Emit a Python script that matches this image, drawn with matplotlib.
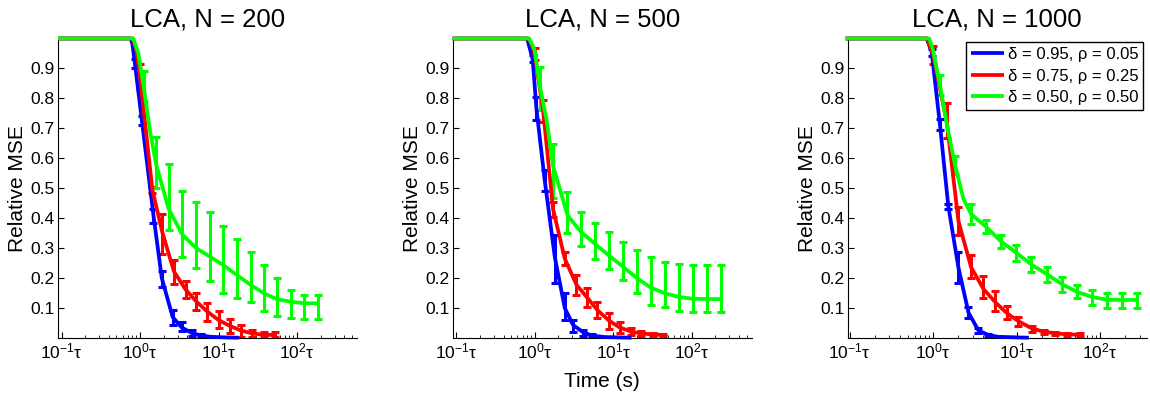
import numpy as np
import matplotlib.pyplot as plt
from matplotlib.ticker import NullFormatter

plt.rcParams['font.family'] = ['Liberation Sans', 'DejaVu Sans']
plt.rcParams['mathtext.fontset'] = 'custom'
plt.rcParams['mathtext.rm'] = 'Liberation Sans'
plt.rcParams['mathtext.it'] = 'Liberation Sans:italic'

titles = ['LCA, N = 200', 'LCA, N = 500', 'LCA, N = 1000']
labels = ['δ = 0.95, ρ = 0.05', 'δ = 0.75, ρ = 0.25', 'δ = 0.50, ρ = 0.50']
colors = ['#0000ff', '#ff0000', '#00ff00']
xlims = [(0.09, 580), (0.09, 580), (0.095, 360)]
xticks = [0.1, 1, 10, 100]
xticklabels = [r'$10^{-1}$τ', r'$10^{0}$τ', r'$10^{1}$τ', r'$10^{2}$τ']
yticks = [0.1, 0.2, 0.3, 0.4, 0.5, 0.6, 0.7, 0.8, 0.9]

# ---- N = 200 ----
p1_blue_line_t = [0.09, 0.76, 0.80, 0.86, 1.05, 1.48, 1.89, 2.6, 3.39, 4.55, 6, 8, 12, 18]
p1_blue_line_y = [1.0, 1.0, 0.98, 0.915, 0.73, 0.41, 0.20, 0.07, 0.035, 0.017, 0.008, 0.004, 0.002, 0.001]
p1_blue_bar_t = [0.86, 1.05, 1.48, 1.89, 2.6, 3.39, 4.55, 6]
p1_blue_bar_lo = [0.90, 0.71, 0.385, 0.17, 0.045, 0.022, 0.008, 0.003]
p1_blue_bar_hi = [0.93, 0.74, 0.43, 0.225, 0.093, 0.053, 0.028, 0.013]

p1_red_line_t = [0.09, 0.8, 0.9, 1.0, 1.435, 1.91, 2.7, 3.8, 5.2, 7.2, 10, 14, 19.4, 27, 38, 52]
p1_red_line_y = [1.0, 1.0, 0.96, 0.87, 0.495, 0.355, 0.222, 0.162, 0.122, 0.088, 0.06, 0.04, 0.025, 0.015, 0.011, 0.01]
p1_red_bar_t = [1.0, 1.435, 1.91, 2.7, 3.8, 5.2, 7.2, 10, 14, 19.4, 27, 38, 52]
p1_red_bar_lo = [0.83, 0.485, 0.28, 0.18, 0.135, 0.095, 0.058, 0.033, 0.017, 0.005, 0.002, 0.002, 0.002]
p1_red_bar_hi = [0.915, 0.505, 0.415, 0.26, 0.19, 0.15, 0.118, 0.09, 0.065, 0.043, 0.027, 0.02, 0.02]

p1_green_line_t = [0.09, 0.82, 0.95, 1.124, 1.34, 1.6, 2.32, 3.46, 5.17, 7.72, 11.5, 17.2, 25.7, 38, 56, 84, 124, 184]
p1_green_line_y = [1.0, 1.0, 0.95, 0.83, 0.69, 0.58, 0.43, 0.345, 0.30, 0.272, 0.243, 0.21, 0.177, 0.149, 0.129, 0.121, 0.116, 0.116]
p1_green_bar_t = [1.124, 1.6, 2.32, 3.46, 5.17, 7.72, 11.5, 17.2, 25.7, 38, 56, 84, 124, 184]
p1_green_bar_lo = [0.79, 0.50, 0.36, 0.27, 0.235, 0.19, 0.15, 0.135, 0.12, 0.09, 0.075, 0.068, 0.065, 0.065]
p1_green_bar_hi = [0.89, 0.67, 0.58, 0.49, 0.455, 0.42, 0.375, 0.332, 0.288, 0.243, 0.20, 0.16, 0.143, 0.143]

# ---- N = 500 ----
p2_blue_line_t = [0.09, 0.8, 0.94, 1.05, 1.34, 1.8, 2.41, 3.08, 4.1, 5.3, 8, 17]
p2_blue_line_y = [1.0, 1.0, 0.93, 0.765, 0.525, 0.27, 0.10, 0.043, 0.02, 0.008, 0.003, 0.001]
p2_blue_bar_t = [0.94, 1.05, 1.34, 1.8, 2.41, 3.08, 4.1, 5.3]
p2_blue_bar_lo = [0.92, 0.727, 0.49, 0.183, 0.06, 0.02, 0.006, 0.002]
p2_blue_bar_hi = [0.945, 0.804, 0.56, 0.345, 0.15, 0.06, 0.028, 0.012]

p2_red_line_t = [0.09, 0.82, 0.9, 1.0, 1.28, 1.71, 2.41, 3.39, 4.69, 6.28, 8.84, 12.1, 16.7, 22.8, 32, 45]
p2_red_line_y = [1.0, 1.0, 0.985, 0.945, 0.757, 0.43, 0.265, 0.178, 0.134, 0.093, 0.058, 0.035, 0.022, 0.015, 0.012, 0.01]
p2_red_bar_t = [1.0, 1.28, 1.71, 2.41, 3.39, 4.69, 6.28, 8.84, 12.1, 16.7, 22.8, 32, 43]
p2_red_bar_lo = [0.927, 0.72, 0.404, 0.243, 0.143, 0.104, 0.066, 0.03, 0.016, 0.01, 0.008, 0.007, 0.006]
p2_red_bar_hi = [0.967, 0.793, 0.454, 0.288, 0.21, 0.166, 0.121, 0.085, 0.054, 0.033, 0.022, 0.017, 0.014]

p2_green_line_t = [0.09, 0.85, 1.0, 1.16, 1.41, 1.71, 2.61, 3.85, 5.81, 8.84, 13.3, 20, 30, 45, 68, 103, 155, 234]
p2_green_line_y = [1.0, 1.0, 0.96, 0.84, 0.73, 0.575, 0.41, 0.355, 0.315, 0.275, 0.238, 0.20, 0.168, 0.15, 0.137, 0.131, 0.13, 0.13]
p2_green_bar_t = [1.16, 1.71, 2.61, 3.85, 5.81, 8.84, 13.3, 20, 30, 45, 68, 103, 155, 234]
p2_green_bar_lo = [0.76, 0.466, 0.35, 0.307, 0.265, 0.232, 0.193, 0.15, 0.11, 0.105, 0.09, 0.088, 0.088, 0.088]
p2_green_bar_hi = [0.904, 0.649, 0.488, 0.421, 0.385, 0.354, 0.321, 0.294, 0.27, 0.255, 0.248, 0.243, 0.243, 0.243]

# ---- N = 1000 ----
p3_blue_line_t = [0.09, 0.84, 0.96, 1.21, 1.52, 2.01, 2.65, 3.49, 4.6, 6, 10, 14]
p3_blue_line_y = [1.0, 1.0, 0.955, 0.71, 0.44, 0.235, 0.085, 0.025, 0.01, 0.004, 0.002, 0.001]
p3_blue_bar_t = [0.96, 1.21, 1.52, 2.01, 2.65, 3.49, 4.6]
p3_blue_bar_lo = [0.943, 0.693, 0.432, 0.182, 0.066, 0.016, 0.004]
p3_blue_bar_hi = [0.966, 0.732, 0.448, 0.288, 0.104, 0.032, 0.014]

p3_red_line_t = [0.09, 0.85, 1.0, 1.46, 2.01, 2.85, 4.0, 5.53, 7.62, 10.5, 15.2, 21, 29, 40, 60]
p3_red_line_y = [1.0, 1.0, 0.945, 0.72, 0.39, 0.236, 0.164, 0.12, 0.083, 0.056, 0.032, 0.021, 0.016, 0.012, 0.011]
p3_red_bar_t = [1.0, 1.46, 2.01, 2.85, 4.0, 5.53, 7.62, 10.5, 15.2, 21, 29, 40, 57.6]
p3_red_bar_lo = [0.914, 0.667, 0.343, 0.2, 0.133, 0.09, 0.062, 0.04, 0.021, 0.013, 0.01, 0.008, 0.008]
p3_red_bar_hi = [0.975, 0.783, 0.439, 0.277, 0.206, 0.156, 0.108, 0.07, 0.04, 0.027, 0.02, 0.017, 0.016]

p3_green_line_t = [0.09, 0.9, 1.0, 1.21, 1.5, 1.83, 2.3, 2.85, 4.31, 6.52, 9.86, 14.9, 23, 34.7, 52.6, 79.8, 120, 182, 275]
p3_green_line_y = [1.0, 1.0, 0.96, 0.843, 0.695, 0.578, 0.465, 0.414, 0.371, 0.322, 0.285, 0.246, 0.213, 0.18, 0.154, 0.137, 0.128, 0.127, 0.127]
p3_green_bar_t = [1.21, 1.83, 2.85, 4.31, 6.52, 9.86, 14.9, 23, 34.7, 52.6, 79.8, 120, 182, 275]
p3_green_bar_lo = [0.81, 0.548, 0.381, 0.349, 0.300, 0.257, 0.221, 0.188, 0.154, 0.132, 0.11, 0.099, 0.099, 0.099]
p3_green_bar_hi = [0.877, 0.608, 0.448, 0.393, 0.345, 0.31, 0.271, 0.238, 0.204, 0.177, 0.16, 0.149, 0.149, 0.149]

panels = [
    [(p1_blue_line_t, p1_blue_line_y, p1_blue_bar_t, p1_blue_bar_lo, p1_blue_bar_hi),
     (p1_red_line_t, p1_red_line_y, p1_red_bar_t, p1_red_bar_lo, p1_red_bar_hi),
     (p1_green_line_t, p1_green_line_y, p1_green_bar_t, p1_green_bar_lo, p1_green_bar_hi)],
    [(p2_blue_line_t, p2_blue_line_y, p2_blue_bar_t, p2_blue_bar_lo, p2_blue_bar_hi),
     (p2_red_line_t, p2_red_line_y, p2_red_bar_t, p2_red_bar_lo, p2_red_bar_hi),
     (p2_green_line_t, p2_green_line_y, p2_green_bar_t, p2_green_bar_lo, p2_green_bar_hi)],
    [(p3_blue_line_t, p3_blue_line_y, p3_blue_bar_t, p3_blue_bar_lo, p3_blue_bar_hi),
     (p3_red_line_t, p3_red_line_y, p3_red_bar_t, p3_red_bar_lo, p3_red_bar_hi),
     (p3_green_line_t, p3_green_line_y, p3_green_bar_t, p3_green_bar_lo, p3_green_bar_hi)],
]

fig = plt.figure(figsize=(11.5, 3.98), dpi=100)
lefts = [58 / 1150, 452.7 / 1150, 847.7 / 1150]

for i, series in enumerate(panels):
    ax = fig.add_axes([lefts[i], 60 / 398, 299 / 1150, 299.5 / 398])
    handles = []
    for (lt, ly, bt, lo, hi), c in zip(series, colors):
        lo = np.array(lo)
        hi = np.array(hi)
        mid = (lo + hi) / 2
        ax.errorbar(bt, mid, yerr=(hi - lo) / 2, fmt='none', ecolor=c,
                    elinewidth=2.2, capsize=2.8, capthick=2.2, zorder=2)
        h, = ax.plot(lt, ly, color=c, lw=2.7, zorder=3, clip_on=False,
                     solid_capstyle='butt', solid_joinstyle='round')
        handles.append(h)

    ax.set_xscale('log')
    ax.set_xlim(*xlims[i])
    ax.set_ylim(0, 1)
    ax.set_xticks(xticks)
    ax.set_xticklabels(xticklabels)
    ax.xaxis.set_minor_formatter(NullFormatter())
    ax.set_yticks(yticks)
    ax.set_yticklabels(['%.1f' % v for v in yticks])
    ax.spines['top'].set_visible(False)
    ax.spines['right'].set_visible(False)
    for s in ['left', 'bottom']:
        ax.spines[s].set_linewidth(0.8)
    ax.tick_params(which='both', direction='in', labelsize=12.5, pad=2.5,
                   top=False, right=False)
    ax.tick_params(which='major', length=4, width=0.8)
    ax.tick_params(which='minor', length=2, width=0.6)
    ax.set_title(titles[i], fontsize=18.5, pad=9)
    ax.set_ylabel('Relative MSE', fontsize=15, labelpad=2)
    if i == 1:
        ax.set_xlabel('Time (s)', fontsize=15, labelpad=8)
    if i == 2:
        leg = ax.legend(handles, labels, loc='upper right', fontsize=12,
                        fancybox=False, edgecolor='black', framealpha=1,
                        borderaxespad=0.2, handlelength=2.0, handletextpad=0.2,
                        labelspacing=0.4, borderpad=0.3)
        leg.get_frame().set_linewidth(1.0)

fig.savefig('out.png', dpi=100)
